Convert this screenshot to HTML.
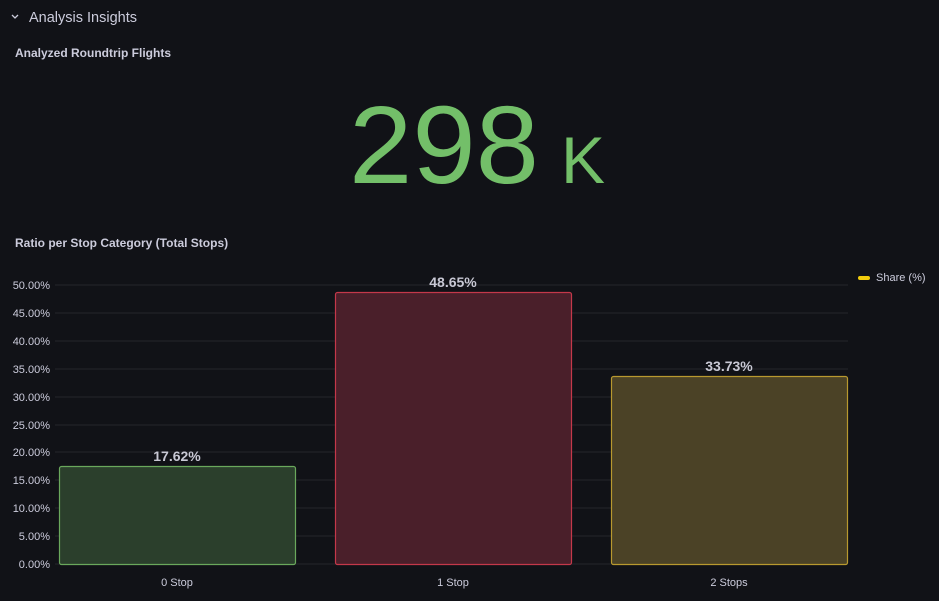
<!DOCTYPE html>
<html><head><style>
html,body{margin:0;padding:0;background:#111217;width:939px;height:601px;overflow:hidden}
svg{display:block}
text{font-family:"Liberation Sans",sans-serif}
</style></head><body>
<svg width="939" height="601" viewBox="0 0 939 601">
<rect width="939" height="601" fill="#111217"/>
<path d="M12 15 l3 3 l3 -3" stroke="#ccccdc" stroke-width="1.3" fill="none"/>
<text x="29" y="22" font-size="14.5" fill="#ccccdc">Analysis Insights</text>
<text x="15" y="57" font-size="12" font-weight="bold" fill="#ccccdc">Analyzed Roundtrip Flights</text>
<text x="349" y="183" font-size="110" fill="#73bf69" textLength="190" lengthAdjust="spacingAndGlyphs">298</text>
<text x="561" y="183" font-size="66" fill="#73bf69">K</text>
<text x="15" y="247" font-size="12" font-weight="bold" fill="#ccccdc">Ratio per Stop Category (Total Stops)</text>
<g stroke="#25262b" stroke-width="1">
<line x1="55" x2="848" y1="285" y2="285"/><line x1="55" x2="848" y1="313" y2="313"/>
<line x1="55" x2="848" y1="341" y2="341"/><line x1="55" x2="848" y1="369" y2="369"/>
<line x1="55" x2="848" y1="397" y2="397"/><line x1="55" x2="848" y1="425" y2="425"/>
<line x1="55" x2="848" y1="452" y2="452"/><line x1="55" x2="848" y1="480" y2="480"/>
<line x1="55" x2="848" y1="508" y2="508"/><line x1="55" x2="848" y1="536" y2="536"/>
<line x1="55" x2="848" y1="564" y2="564"/>
</g>
<g font-size="11" fill="#ccccdc" text-anchor="end">
<text x="50" y="289">50.00%</text><text x="50" y="317">45.00%</text>
<text x="50" y="345">40.00%</text><text x="50" y="373">35.00%</text>
<text x="50" y="401">30.00%</text><text x="50" y="429">25.00%</text>
<text x="50" y="456">20.00%</text><text x="50" y="484">15.00%</text>
<text x="50" y="512">10.00%</text><text x="50" y="540">5.00%</text>
<text x="50" y="568">0.00%</text>
</g>
<rect x="59.5" y="466.5" width="236" height="98" rx="2" fill="#2b3f2c" stroke="#6aa85c" stroke-width="1.2"/>
<rect x="335.5" y="292.5" width="236" height="272" rx="2" fill="#4a1f2a" stroke="#c4384a" stroke-width="1.2"/>
<rect x="611.5" y="376.5" width="236" height="188" rx="2" fill="#4b4226" stroke="#b8992f" stroke-width="1.2"/>
<g font-size="14" font-weight="bold" fill="#c8c8d4" text-anchor="middle">
<text x="177" y="461">17.62%</text>
<text x="453" y="287">48.65%</text>
<text x="729" y="371">33.73%</text>
</g>
<g font-size="11" fill="#ccccdc" text-anchor="middle">
<text x="177" y="586">0 Stop</text>
<text x="453" y="586">1 Stop</text>
<text x="729" y="586">2 Stops</text>
</g>
<rect x="858" y="276" width="12" height="4" rx="2" fill="#f2cc0c"/>
<text x="876" y="281" font-size="11" fill="#ccccdc">Share (%)</text>
</svg>
</body></html>
